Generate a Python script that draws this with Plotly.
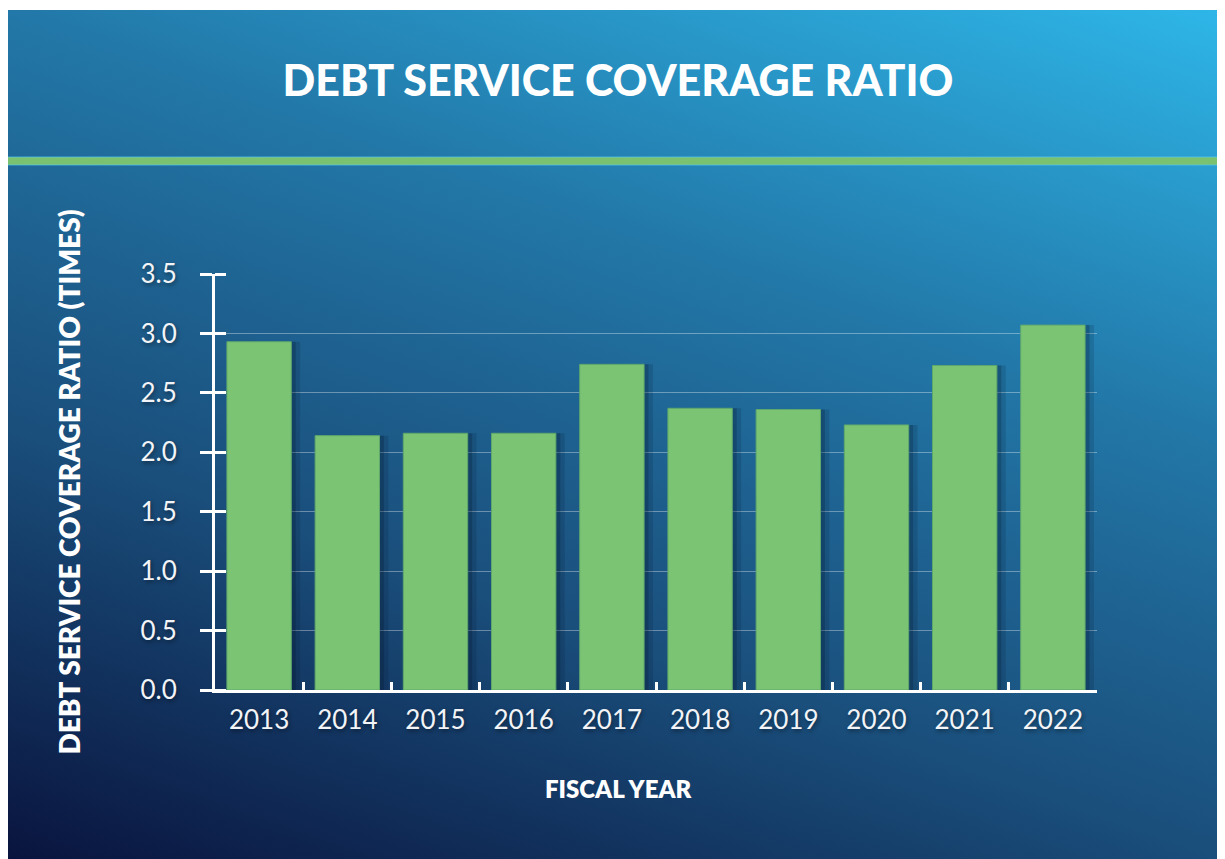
import base64
import plotly.graph_objects as go

# ---- data ----
years = ["2013", "2014", "2015", "2016", "2017", "2018", "2019", "2020", "2021", "2022"]
coverage_ratio = [2.93, 2.14, 2.16, 2.16, 2.74, 2.37, 2.36, 2.23, 2.73, 3.07]
y_ticks = [0.0, 0.5, 1.0, 1.5, 2.0, 2.5, 3.0, 3.5]

title_text = "DEBT SERVICE COVERAGE RATIO"
y_title = "DEBT SERVICE COVERAGE RATIO (TIMES)"
x_title = "FISCAL YEAR"

# ---- layout geometry (pixels); page body adds an 8px offset ----
OFF = 8
W, H = 1225, 859
plot_left, plot_right, plot_top, plot_bottom = 215, 1097, 274, 690   # screen coordinates
L = plot_left - OFF
R = W - (plot_right - OFF)
T = plot_top - OFF
B = H - (plot_bottom - OFF)
PW, PH = W - L - R, H - T - B


def px_x(sx):
    return (sx - OFF - L) / PW


def px_y(sy):
    return (H - (sy - OFF) - B) / PH


# background gradient as an SVG image
bg_w, bg_h = 1220, 849
svg = f"""<svg xmlns='http://www.w3.org/2000/svg' width='{bg_w}' height='{bg_h}' viewBox='0 0 {bg_w} {bg_h}' preserveAspectRatio='none'>
<defs><linearGradient id='g' gradientUnits='userSpaceOnUse' x1='409' y1='993' x2='811' y2='-144'>
<stop offset='0' stop-color='#09143E'/>
<stop offset='0.337' stop-color='#1A4E7B'/>
<stop offset='0.5' stop-color='#1E6291'/>
<stop offset='0.663' stop-color='#2278A8'/>
<stop offset='1' stop-color='#2EB6E8'/>
</linearGradient></defs>
<rect x='0' y='0' width='{bg_w}' height='{bg_h}' fill='url(#g)'/>
</svg>"""
bg_uri = "data:image/svg+xml;base64," + base64.b64encode(svg.encode()).decode()

tick_font = dict(family="Lato", size=26, color="#F2F4F7", weight=400,
                 shadow="1px 2px 4px rgba(0,0,0,0.45)")

bar_w = 0.73
fig = go.Figure()
# soft drop shadow behind the bars (two translucent layers)
for shift, alpha in [(0.10, 0.14), (0.05, 0.22)]:
    fig.add_trace(go.Bar(
        x=years, y=coverage_ratio, width=bar_w, offset=-bar_w / 2 + shift,
        marker=dict(color=f"rgba(3,16,38,{alpha})", line=dict(width=0)),
        hoverinfo="skip",
    ))
fig.add_trace(go.Bar(
    x=years, y=coverage_ratio, width=bar_w, offset=-bar_w / 2,
    marker=dict(color="#7BC474", line=dict(color="#5FA86C", width=1)),
    hoverinfo="x+y",
))
# invisible companion trace so the inner tick marks of the y axis are drawn
fig.add_trace(go.Scatter(x=years, y=coverage_ratio, yaxis="y2", mode="markers",
                         marker=dict(opacity=0), hoverinfo="skip"))

fig.update_layout(
    width=W, height=H, autosize=False,
    margin=dict(l=L, r=R, t=T, b=B),
    paper_bgcolor="white", plot_bgcolor="rgba(0,0,0,0)",
    showlegend=False, barmode="overlay",
    title=dict(text=title_text, x=(618 - OFF) / W, xanchor="center", y=1 - (81 - OFF) / H,
               yanchor="middle",
               font=dict(family="Lato", size=43, color="white", weight=900)),
    xaxis=dict(type="category", range=[-0.5, 9.5], showline=True, linecolor="white", linewidth=3,
               ticks="inside", tickson="boundaries", ticklen=8, tickwidth=3, tickcolor="white",
               showgrid=False, tickfont=tick_font, ticklabelstandoff=5),
    yaxis=dict(range=[0, 3.5], tickvals=y_ticks, tickformat=".1f", showline=True, linecolor="white",
               linewidth=3, ticks="outside", ticklen=12, tickwidth=3, tickcolor="white",
               showgrid=True, gridcolor="rgba(255,255,255,0.35)", gridwidth=1, zeroline=False,
               minor=dict(tickvals=y_ticks, ticks="inside", ticklen=11, tickwidth=3,
                          tickcolor="white", showgrid=False),
               tickfont=tick_font, ticklabelstandoff=18,
               title=dict(text=y_title, standoff=52,
                          font=dict(family="Lato", size=28, color="white", weight=800))),
    yaxis2=dict(overlaying="y", side="left", anchor="x", range=[0, 3.5], tickvals=y_ticks,
                ticks="inside", ticklen=11, tickwidth=3, tickcolor="white",
                showticklabels=False, showgrid=False, showline=False, zeroline=False),
    images=[dict(source=bg_uri, xref="paper", yref="paper", x=px_x(5), y=px_y(10),
                 sizex=bg_w / PW, sizey=bg_h / PH, sizing="stretch", layer="below",
                 xanchor="left", yanchor="top")],
    shapes=[dict(type="rect", xref="paper", yref="paper", x0=px_x(0), x1=px_x(W + OFF),
                 y0=px_y(165), y1=px_y(157), fillcolor="#7AC170",
                 line=dict(color="rgba(90,200,240,0.7)", width=1), layer="above")],
    annotations=[dict(text=x_title, xref="paper", yref="paper", x=px_x(618), y=px_y(788),
                      xanchor="center", yanchor="middle", showarrow=False,
                      font=dict(family="Lato", size=24, color="white", weight=800))],
)

fig.write_html("out.html")
